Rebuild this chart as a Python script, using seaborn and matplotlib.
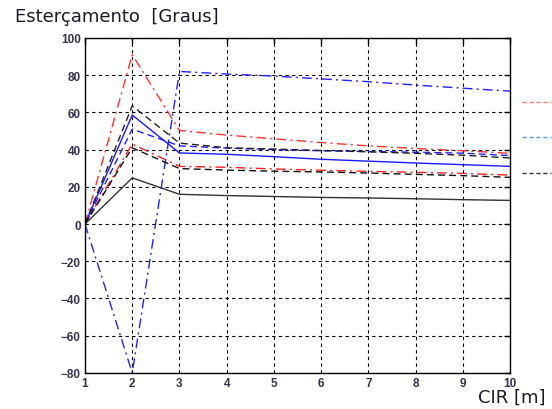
import matplotlib
matplotlib.use("Agg")
import matplotlib.pyplot as plt
from matplotlib.lines import Line2D
import seaborn as sns

# CIR [m]
cir = [1, 2, 3, 4, 5, 6, 7, 8, 9, 10]

# steering angle series [Graus]
red_upper = [0, 91, 50.3, 47.8, 45.8, 43.8, 42.0, 40.6, 39.4, 38.0]
red_lower = [0, 43, 31.0, 30.5, 29.6, 28.9, 28.3, 27.8, 27.2, 26.3]
blue_solid = [0, 58.6, 38.2, 37.5, 36.2, 34.8, 33.8, 32.8, 31.9, 31.0]
blue_dashed = [0, 51, 42.0, 40.8, 40.0, 39.4, 39.0, 38.6, 38.1, 36.8]
blue_dashdot = [0, -80, 82.0, 80.6, 79.5, 78.0, 76.5, 74.7, 73.0, 71.4]
black_solid = [0, 24.8, 16.0, 15.3, 14.8, 14.3, 14.0, 13.6, 13.1, 12.7]
black_upper = [0, 63.5, 43.5, 41.0, 40.3, 39.5, 38.8, 38.0, 37.0, 35.5]
black_lower = [0, 41, 29.8, 29.0, 28.4, 28.0, 27.4, 26.7, 26.0, 25.1]

x_ticks = [1, 2, 3, 4, 5, 6, 7, 8, 9, 10]
y_ticks = [-80, -60, -40, -20, 0, 20, 40, 60, 80, 100]


def main():
    sns.set_style("white")
    fig = plt.figure(figsize=(5.52, 4.10), dpi=100)
    ax = fig.add_axes([0.154, 0.088, 0.770, 0.817])

    series = [
        (red_upper, "#ff3333", (0, (7, 3, 1.5, 3))),
        (red_lower, "#ff2222", (0, (7, 3, 1.5, 3))),
        (blue_dashdot, "#2222ff", (0, (7, 3, 1.5, 3))),
        (blue_dashed, "#2222ff", (0, (5, 3))),
        (blue_solid, "#1a1aff", "-"),
        (black_upper, "#222222", (0, (5, 3))),
        (black_lower, "#111111", (0, (5, 3))),
        (black_solid, "#333333", "-"),
    ]
    for vals, col, ls in series:
        sns.lineplot(x=cir, y=vals, color=col, linestyle=ls, linewidth=1.0, ax=ax)

    ax.set_xlim(1, 10)
    ax.set_ylim(-80, 100)
    ax.set_xticks(x_ticks)
    ax.set_yticks(y_ticks)
    ax.grid(True, color="black", linestyle=(0, (3, 3)), linewidth=0.8)
    for s in ax.spines.values():
        s.set_color("black")
        s.set_linewidth(1.0)
    ax.tick_params(direction="in", top=True, right=True, length=4, width=1,
                   colors="black", labelcolor="#33334f", pad=3)
    for lab in ax.get_xticklabels() + ax.get_yticklabels():
        lab.set_fontfamily("Liberation Sans")
        lab.set_fontweight("bold")
        lab.set_fontsize(8.5)
    ax.set_xlabel("")
    ax.set_ylabel("")

    fig.text(0.027, 0.958, "Esterçamento  [Graus]", fontsize=13,
             family="DejaVu Sans", color="#1a1a2a", va="center", ha="left")
    fig.text(0.988, 0.030, "CIR [m]", fontsize=13,
             family="DejaVu Sans", color="#1a1a2a", va="center", ha="right")

    # clipped legend fragments on the right
    for yf, col in [(0.749, "#ff7777"), (0.663, "#5599cc"), (0.576, "#333333")]:
        fig.add_artist(Line2D([0.946, 0.998], [yf, yf], color=col,
                              linestyle=(0, (3, 2)), linewidth=1.0,
                              transform=fig.transFigure))

    fig.savefig("out.png", dpi=100)


if __name__ == "__main__":
    main()
